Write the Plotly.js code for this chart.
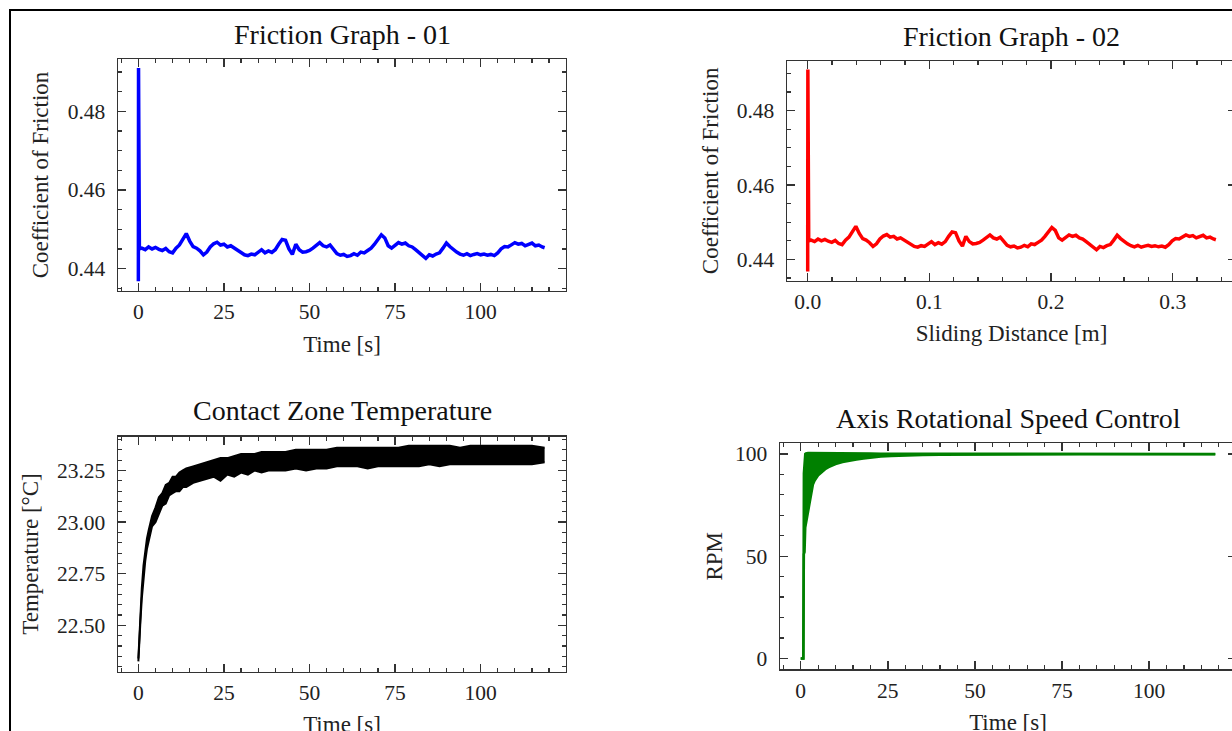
<!DOCTYPE html>
<html><head><meta charset="utf-8">
<script src="https://cdn.plot.ly/plotly-3.0.1.min.js"></script>
<style>html,body{margin:0;padding:0;overflow:hidden;background:#fff}#chart{width:1250px;height:760px}</style>
</head><body><div id="chart"></div>
<script>
// ---- Friction (COF) vs time ----
const frictionTime = [0, 0.05, 0.3,
  1,2,3,4,5,6,7,8,9,10,11,12,13,14,15,16,17,18,19,20,21,22,23,24,25,26,27,28,29,30,
  31,32,33,34,35,36,37,38,39,40,41,42,43,44,45,46,47,48,49,50,51,52,53,54,55,56,57,58,59,60,
  61,62,63,64,65,66,67,68,69,70,71,72,73,74,75,76,77,78,79,80,81,82,83,84,85,86,87,88,89,90,
  91,92,93,94,95,96,97,98,99,100,101,102,103,104,105,106,107,108,109,110,111,112,113,114,115,116,117,118,118.7];
const frictionCoef = [0.4368, 0.4910, 0.4450,
  0.4452,0.4448,0.4455,0.4450,0.4454,0.4449,0.4446,0.4451,0.4443,0.4440,
  0.4452,0.4460,0.4475,0.4489,0.4470,0.4456,0.4452,0.4445,0.4435,0.4442,
  0.4455,0.4463,0.4467,0.4460,0.4462,0.4455,0.4458,0.4452,0.4446,0.4440,
  0.4435,0.4433,0.4437,0.4435,0.4442,0.4448,0.4440,0.4445,0.4441,0.4448,
  0.4462,0.4474,0.4472,0.4450,0.4436,0.4462,0.4448,0.4442,0.4443,0.4446,
  0.4452,0.4460,0.4466,0.4458,0.4455,0.4460,0.4448,0.4438,0.4434,0.4436,
  0.4431,0.4433,0.4438,0.4434,0.4442,0.4440,0.4446,0.4452,0.4462,0.4475,
  0.4486,0.4478,0.4458,0.4452,0.4460,0.4466,0.4462,0.4465,0.4458,0.4455,
  0.4448,0.4440,0.4433,0.4426,0.4435,0.4432,0.4437,0.4440,0.4452,0.4465,
  0.4456,0.4448,0.4442,0.4437,0.4434,0.4438,0.4433,0.4436,0.4438,0.4435,
  0.4437,0.4434,0.4436,0.4433,0.4440,0.4450,0.4456,0.4455,0.4460,0.4466,
  0.4462,0.4464,0.4458,0.4462,0.4465,0.4458,0.4460,0.4455,
  0.4453];
// sliding speed (0.3355 m at 118.7 s)
const slidingMetresPerSecond = 0.002826;

// ---- Contact zone temperature (band: low / high edge) ----
const tempTime = [0,0.3,0.6,1,1.5,2,2.5,3,3.5,4,5,6,7,8,9,10,11,12,13,14,16,18,20,22,24,26,28,30,32,34,36,38,40,43,46,49,52,55,58,61,64,67,70,73,76,79,82,85,88,91,94,97,100,103,106,109,112,115,118.7];
const tempLow  = [22.326,22.40,22.52,22.63,22.74,22.81,22.87,22.91,22.95,22.98,23.00,23.04,23.08,23.09,23.13,23.14,23.15,23.15,23.17,23.17,23.19,23.20,23.21,23.22,23.20,23.23,23.22,23.24,23.23,23.25,23.24,23.25,23.25,23.25,23.26,23.25,23.26,23.26,23.27,23.27,23.27,23.26,23.27,23.27,23.27,23.27,23.27,23.28,23.27,23.28,23.28,23.28,23.28,23.28,23.28,23.28,23.28,23.28,23.29];
const tempHigh = [22.34,22.46,22.58,22.68,22.79,22.86,22.92,22.96,23.00,23.03,23.07,23.12,23.14,23.18,23.19,23.22,23.22,23.24,23.25,23.26,23.27,23.28,23.29,23.30,23.31,23.31,23.32,23.33,23.33,23.33,23.34,23.34,23.34,23.34,23.35,23.35,23.35,23.35,23.36,23.36,23.36,23.36,23.36,23.36,23.36,23.37,23.37,23.37,23.37,23.37,23.36,23.37,23.37,23.37,23.37,23.37,23.37,23.37,23.36];

// ---- Axis rotational speed (band: low / high edge) ----
const rpmTime = [0,0.75,0.9,1.1,1.3,1.5,1.8,2.1,2.4,2.7,3,3.5,4,5,6,7,8,10,12,14,16,18,20,23,26,30,35,40,50,60,80,100,119];
const rpmLow  = [0,0,51,52,64,66,69,72,76,78,82,85,87,89.5,91,92.5,93.5,95,96,96.8,97.3,97.8,98.2,98.7,99.0,99.3,99.5,99.6,99.7,99.75,99.8,99.8,99.8];
const rpmHigh = [0,0,90.5,99,100,100.3,100.5,100.5,100.5,100.5,100.5,100.5,100.5,100.5,100.4,100.4,100.4,100.3,100.3,100.3,100.2,100.2,100.2,100.1,100.1,100.1,100,100,100,100,100,100,100];

// ---- Text ----
const panelTitles = ['Friction Graph - 01','Friction Graph - 02','Contact Zone Temperature','Axis Rotational Speed Control'];
const xTitles = ['Time [s]','Sliding Distance [m]','Time [s]','Time [s]'];
const yTitles = ['Coefficient of Friction','Coefficient of Friction','Temperature [°C]','RPM'];

const W = 1250, H = 760;
const F = 'Liberation Serif, Times New Roman, serif';
const px = v => v / W;
const py = v => 1 - v / H;

const slidingDistance = frictionTime.map(t => t * slidingMetresPerSecond);

const traces = [
  {x: frictionTime, y: frictionCoef, xaxis:'x', yaxis:'y', mode:'lines', line:{color:'#0000ff', width:3.5}},
  {x: slidingDistance, y: frictionCoef, xaxis:'x2', yaxis:'y2', mode:'lines', line:{color:'#ff0000', width:3.5}},
  {x: tempTime, y: tempLow, xaxis:'x3', yaxis:'y3', mode:'lines', line:{color:'#000', width:2}},
  {x: tempTime, y: tempHigh, xaxis:'x3', yaxis:'y3', mode:'lines', line:{color:'#000', width:2}, fill:'tonexty', fillcolor:'#000'},
  {x: rpmTime, y: rpmLow, xaxis:'x4', yaxis:'y4', mode:'lines', line:{color:'#008000', width:2.5}},
  {x: rpmTime, y: rpmHigh, xaxis:'x4', yaxis:'y4', mode:'lines', line:{color:'#008000', width:2.5}, fill:'tonexty', fillcolor:'#008000'}
];

function minor(d, t0){ return {ticks:'inside', ticklen:4, tickwidth:1.2, tickcolor:'#333', showgrid:false, dtick:d, tick0:t0}; }
function ax(extra){
  return Object.assign({
    showline:true, linecolor:'#333', linewidth:1.4, mirror:'allticks',
    ticks:'inside', ticklen:8, tickwidth:1.4, tickcolor:'#333',
    showgrid:false, zeroline:false, fixedrange:true,
    tickfont:{family:F, size:21.5, color:'#222'}
  }, extra);
}
function title(t, standoff){ return {text:t, font:{family:F, size:23, color:'#222'}, standoff:standoff}; }

const layout = {
  width: W, height: H, margin:{l:0,r:0,t:0,b:0},
  paper_bgcolor:'#fff', plot_bgcolor:'#fff', showlegend:false,
  font:{family:F, color:'#222'},
  xaxis:  ax({domain:[px(118), px(566)], range:[-5.95,124.95], tick0:0, dtick:25, minor:minor(5,0), ticklabelstandoff:1, anchor:'y', title:title(xTitles[0],12)}),
  yaxis:  ax({domain:[py(291), py(59)], range:[0.4343,0.4933], tick0:0.44, dtick:0.02, tickformat:'.2f', minor:minor(0.005,0.44), ticklabelstandoff:7, anchor:'x', title:title(yTitles[0],12)}),
  xaxis2: ax({domain:[px(787), px(1236)], range:[-0.017,0.352], tick0:0, dtick:0.1, tickformat:'.1f', minor:minor(0.02,0), ticklabelstandoff:1, anchor:'y2', title:title(xTitles[1],12)}),
  yaxis2: ax({domain:[py(280.7), py(61)], range:[0.4343,0.4933], tick0:0.44, dtick:0.02, tickformat:'.2f', minor:minor(0.005,0.44), ticklabelstandoff:7, anchor:'x2', title:title(yTitles[1],11)}),
  xaxis3: ax({domain:[px(118), px(566)], range:[-5.95,124.95], tick0:0, dtick:25, minor:minor(5,0), ticklabelstandoff:1, anchor:'y3', title:title(xTitles[2],12)}),
  yaxis3: ax({domain:[py(671.5), py(436.5)], range:[22.277,23.4145], tick0:22.5, dtick:0.25, tickformat:'.2f', minor:minor(0.05,22.5), ticklabelstandoff:7, anchor:'x3', title:title(yTitles[2],12)}),
  xaxis4: ax({domain:[px(780), px(1236)], range:[-5.95,124.95], tick0:0, dtick:25, minor:minor(5,0), ticklabelstandoff:1, anchor:'y4', title:title(xTitles[3],12)}),
  yaxis4: ax({domain:[py(669.3), py(443.3)], range:[-5.3,105.2], tick0:0, dtick:50, minor:minor(10,0), ticklabelstandoff:7, anchor:'x4', title:title(yTitles[3],6)}),
  annotations: [
    {text:panelTitles[0], x:px(342), y:py(34)},
    {text:panelTitles[1], x:px(1011), y:py(37)},
    {text:panelTitles[2], x:px(342), y:py(410)},
    {text:panelTitles[3], x:px(1008), y:py(418)}
  ].map(a => Object.assign({xref:'paper', yref:'paper', xanchor:'center', yanchor:'middle', showarrow:false, font:{family:F, size:28, color:'#111'}}, a)),
  shapes: [
    {type:'rect', xref:'paper', yref:'paper', x0:px(10), x1:px(1400), y0:py(900), y1:py(10), line:{color:'#000', width:2}, layer:'above'}
  ]
};

Plotly.newPlot('chart', traces, layout, {displayModeBar:false, staticPlot:true});
</script></body></html>
